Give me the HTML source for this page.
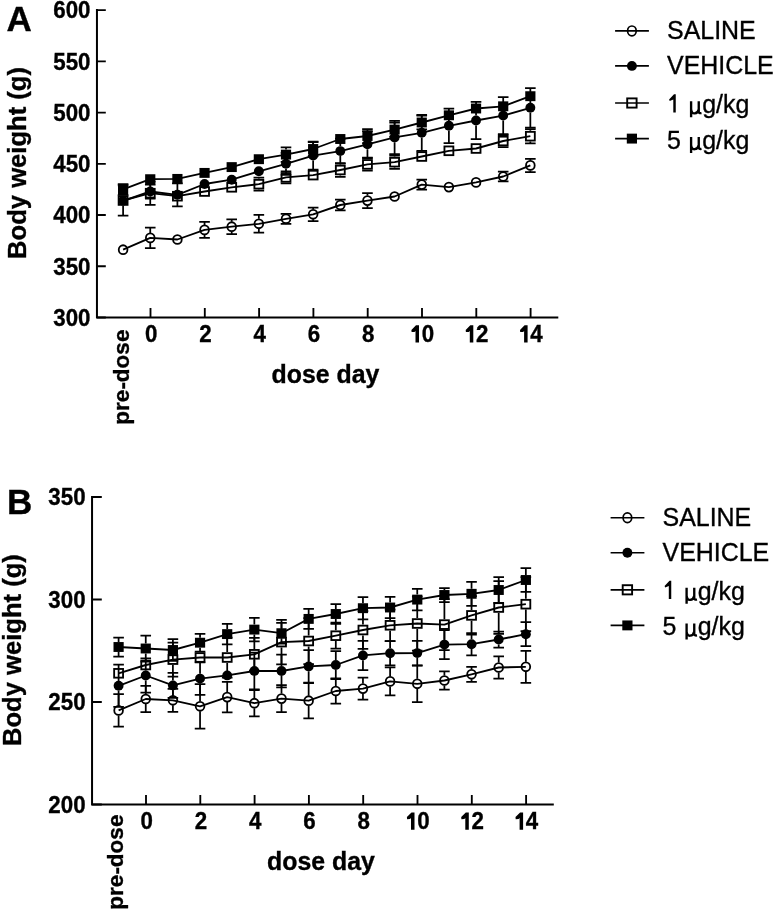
<!DOCTYPE html>
<html><head><meta charset="utf-8"><style>
html,body{margin:0;padding:0;background:#fff;}
body{width:774px;height:910px;overflow:hidden;}
svg{display:block;will-change:transform;}
text{font-family:"Liberation Sans",sans-serif;fill:#000;stroke:#000;stroke-width:0.35px;}
.tl{font-size:23px;font-weight:bold;}
.pd{font-size:22.5px;font-weight:bold;}
.al{font-size:25.6px;font-weight:bold;}
.pl{font-size:35px;font-weight:bold;}
.lg{font-size:26px;}
.hid{fill:none;stroke:none;}
</style></head><body>
<svg width="774" height="910" viewBox="0 0 774 910">
<rect width="774" height="910" fill="#fff"/>
<path d="M96.95 9.1V317.5H558.3" fill="none" stroke="#000" stroke-width="2"/>
<path d="M96.95 10.1H105.8M96.95 61.33H105.8M96.95 112.57H105.8M96.95 163.8H105.8M96.95 215.03H105.8M96.95 266.27H105.8M96.95 317.5H105.8M150.5 317.5V308M204.8 317.5V308M259.1 317.5V308M313.4 317.5V308M367.7 317.5V308M422 317.5V308M476.3 317.5V308M530.6 317.5V308" fill="none" stroke="#000" stroke-width="1.85"/>
<text class="tl" text-anchor="end" transform="translate(90.45 18.35) scale(0.97 1.0001)">600</text>
<text class="tl" text-anchor="end" transform="translate(90.45 69.58) scale(0.97 1.0001)">550</text>
<text class="tl" text-anchor="end" transform="translate(90.45 120.82) scale(0.97 1.0001)">500</text>
<text class="tl" text-anchor="end" transform="translate(90.45 172.05) scale(0.97 1.0001)">450</text>
<text class="tl" text-anchor="end" transform="translate(90.45 223.28) scale(0.97 1.0001)">400</text>
<text class="tl" text-anchor="end" transform="translate(90.45 274.52) scale(0.97 1.0001)">350</text>
<text class="tl" text-anchor="end" transform="translate(90.45 325.75) scale(0.97 1.0001)">300</text>
<text class="tl" text-anchor="middle" transform="translate(151.1 341.8) scale(0.97 1.0001)">0</text>
<text class="tl" text-anchor="middle" transform="translate(205.4 341.8) scale(0.97 1.0001)">2</text>
<text class="tl" text-anchor="middle" transform="translate(259.7 341.8) scale(0.97 1.0001)">4</text>
<text class="tl" text-anchor="middle" transform="translate(314 341.8) scale(0.97 1.0001)">6</text>
<text class="tl" text-anchor="middle" transform="translate(368.3 341.8) scale(0.97 1.0001)">8</text>
<path d="M419 325.3V342.6H415.5V330.9L414.5 332L411.6 332.1L411.4 329.9L416 325.3Z"/>
<text class="tl" text-anchor="middle" transform="translate(421.7 341.8) scale(0.97 1.0001)"><tspan class="hid">1</tspan>0</text>
<path d="M473.3 325.3V342.6H469.8V330.9L468.8 332L465.9 332.1L465.7 329.9L470.3 325.3Z"/>
<text class="tl" text-anchor="middle" transform="translate(476 341.8) scale(0.97 1.0001)"><tspan class="hid">1</tspan>2</text>
<path d="M527.6 325.3V342.6H524.1V330.9L523.1 332L520.2 332.1L520 329.9L524.6 325.3Z"/>
<text class="tl" text-anchor="middle" transform="translate(530.3 341.8) scale(0.97 1.0001)"><tspan class="hid">1</tspan>4</text>
<text class="pd" transform="translate(129.0 329.6) rotate(-90)" text-anchor="end">pre-dose</text>
<text class="al" transform="translate(271.5 383.3) scale(0.972 1.0001)">dose day</text>
<text class="al" transform="translate(25.8 163) rotate(-90)" text-anchor="middle">Body weight (g)</text>
<text class="pl" x="6.4" y="30.9">A</text>
<path d="M150.25 227.6V232.9M150.25 242.9V248.2M144.95 227.6H155.55M144.95 248.2H155.55M204.55 221.9V224.9M204.55 234.9V237.9M199.25 221.9H209.85M199.25 237.9H209.85M231.7 219.4V221.7M231.7 231.7V234M226.4 219.4H237M226.4 234H237M258.85 214.9V218.8M258.85 228.8V232.7M253.55 214.9H264.15M253.55 232.7H264.15M280.7 213.8H291.3M280.7 223.8H291.3M313.15 207.5V209.3M313.15 219.3V221.1M307.85 207.5H318.45M307.85 221.1H318.45M340.3 199.7V200M340.3 210V210.3M335 199.7H345.6M335 210.3H345.6M367.45 193.1V195.6M367.45 205.6V208.1M362.15 193.1H372.75M362.15 208.1H372.75M416.45 179.6H427.05M416.45 189.6H427.05M497.9 171.7H508.5M497.9 181.3H508.5M530.35 158.8V160.4M530.35 170.4V172M525.05 158.8H535.65M525.05 172H535.65" fill="none" stroke="#000" stroke-width="1.75"/>
<polyline points="123.1,249.7 150.25,237.9 177.4,239.5 204.55,229.9 231.7,226.7 258.85,223.8 286,218.8 313.15,214.3 340.3,205 367.45,200.6 394.6,196.5 421.75,184.6 448.9,187.1 476.05,182.4 503.2,176.5 530.35,165.4" fill="none" stroke="#000" stroke-width="1.85" stroke-linejoin="round"/>
<ellipse cx="123.1" cy="249.7" rx="4.35" ry="4.45" fill="none" stroke="#000" stroke-width="1.8"/>
<ellipse cx="150.25" cy="237.9" rx="4.35" ry="4.45" fill="none" stroke="#000" stroke-width="1.8"/>
<ellipse cx="177.4" cy="239.5" rx="4.35" ry="4.45" fill="none" stroke="#000" stroke-width="1.8"/>
<ellipse cx="204.55" cy="229.9" rx="4.35" ry="4.45" fill="none" stroke="#000" stroke-width="1.8"/>
<ellipse cx="231.7" cy="226.7" rx="4.35" ry="4.45" fill="none" stroke="#000" stroke-width="1.8"/>
<ellipse cx="258.85" cy="223.8" rx="4.35" ry="4.45" fill="none" stroke="#000" stroke-width="1.8"/>
<ellipse cx="286" cy="218.8" rx="4.35" ry="4.45" fill="none" stroke="#000" stroke-width="1.8"/>
<ellipse cx="313.15" cy="214.3" rx="4.35" ry="4.45" fill="none" stroke="#000" stroke-width="1.8"/>
<ellipse cx="340.3" cy="205" rx="4.35" ry="4.45" fill="none" stroke="#000" stroke-width="1.8"/>
<ellipse cx="367.45" cy="200.6" rx="4.35" ry="4.45" fill="none" stroke="#000" stroke-width="1.8"/>
<ellipse cx="394.6" cy="196.5" rx="4.35" ry="4.45" fill="none" stroke="#000" stroke-width="1.8"/>
<ellipse cx="421.75" cy="184.6" rx="4.35" ry="4.45" fill="none" stroke="#000" stroke-width="1.8"/>
<ellipse cx="448.9" cy="187.1" rx="4.35" ry="4.45" fill="none" stroke="#000" stroke-width="1.8"/>
<ellipse cx="476.05" cy="182.4" rx="4.35" ry="4.45" fill="none" stroke="#000" stroke-width="1.8"/>
<ellipse cx="503.2" cy="176.5" rx="4.35" ry="4.45" fill="none" stroke="#000" stroke-width="1.8"/>
<ellipse cx="530.35" cy="165.4" rx="4.35" ry="4.45" fill="none" stroke="#000" stroke-width="1.8"/>
<path d="M150.25 184.5V186.6M150.25 196.4V198.5M144.95 184.5H155.55M144.95 198.5H155.55M177.4 183.3V189.9M177.4 199.7V206.3M172.1 183.3H182.7M172.1 206.3H182.7M286 152.8V158.9M286 168.7V174.8M280.7 152.8H291.3M280.7 174.8H291.3M313.15 141.6V150.7M313.15 160.5V169.6M307.85 141.6H318.45M307.85 169.6H318.45M340.3 138.6V146.2M340.3 156V163.6M335 138.6H345.6M335 163.6H345.6M367.45 131V139.4M367.45 149.2V157.6M362.15 131H372.75M362.15 157.6H372.75M394.6 120.8V132.5M394.6 142.3V154M389.3 120.8H399.9M389.3 154H399.9M421.75 114.8V127.9M421.75 137.7V150.8M416.45 114.8H427.05M416.45 150.8H427.05M448.9 108.6V120.9M448.9 130.7V143M443.6 108.6H454.2M443.6 143H454.2M476.05 101.9V115.6M476.05 125.4V139.1M470.75 101.9H481.35M470.75 139.1H481.35M503.2 97V110.7M503.2 120.5V134.2M497.9 97H508.5M497.9 134.2H508.5M530.35 88V102.9M530.35 112.7V127.6M525.05 88H535.65M525.05 127.6H535.65" fill="none" stroke="#000" stroke-width="1.75"/>
<polyline points="123.1,200.8 150.25,191.5 177.4,194.8 204.55,184 231.7,179.7 258.85,171.3 286,163.8 313.15,155.6 340.3,151.1 367.45,144.3 394.6,137.4 421.75,132.8 448.9,125.8 476.05,120.5 503.2,115.6 530.35,107.8" fill="none" stroke="#000" stroke-width="1.85" stroke-linejoin="round"/>
<circle cx="123.1" cy="200.8" r="4.95" fill="#000"/>
<circle cx="150.25" cy="191.5" r="4.95" fill="#000"/>
<circle cx="177.4" cy="194.8" r="4.95" fill="#000"/>
<circle cx="204.55" cy="184" r="4.95" fill="#000"/>
<circle cx="231.7" cy="179.7" r="4.95" fill="#000"/>
<circle cx="258.85" cy="171.3" r="4.95" fill="#000"/>
<circle cx="286" cy="163.8" r="4.95" fill="#000"/>
<circle cx="313.15" cy="155.6" r="4.95" fill="#000"/>
<circle cx="340.3" cy="151.1" r="4.95" fill="#000"/>
<circle cx="367.45" cy="144.3" r="4.95" fill="#000"/>
<circle cx="394.6" cy="137.4" r="4.95" fill="#000"/>
<circle cx="421.75" cy="132.8" r="4.95" fill="#000"/>
<circle cx="448.9" cy="125.8" r="4.95" fill="#000"/>
<circle cx="476.05" cy="120.5" r="4.95" fill="#000"/>
<circle cx="503.2" cy="115.6" r="4.95" fill="#000"/>
<circle cx="530.35" cy="107.8" r="4.95" fill="#000"/>
<path d="M123.1 185.3V195.1M123.1 205.9V215.7M117.8 185.3H128.4M117.8 215.7H128.4M150.25 181.6V187.8M150.25 198.6V204.8M144.95 181.6H155.55M144.95 204.8H155.55M258.85 177.7V178.8M258.85 189.6V190.7M253.55 177.7H264.15M253.55 190.7H264.15M286 171.4V172M286 182.8V183.4M280.7 171.4H291.3M280.7 183.4H291.3M340.3 163.2V164.6M340.3 175.4V176.8M335 163.2H345.6M335 176.8H345.6M367.45 158.2V159M367.45 169.8V170.6M362.15 158.2H372.75M362.15 170.6H372.75M394.6 155.6V156.8M394.6 167.6V168.8M389.3 155.6H399.9M389.3 168.8H399.9M503.2 135V135.6M503.2 146.4V147M497.9 135H508.5M497.9 147H508.5M530.35 129V130.8M530.35 141.6V143.4M525.05 129H535.65M525.05 143.4H535.65" fill="none" stroke="#000" stroke-width="1.75"/>
<polyline points="123.1,200.5 150.25,193.2 177.4,196.2 204.55,191.5 231.7,187.3 258.85,184.2 286,177.4 313.15,175.1 340.3,170 367.45,164.4 394.6,162.2 421.75,156.5 448.9,150.8 476.05,148.5 503.2,141 530.35,136.2" fill="none" stroke="#000" stroke-width="1.85" stroke-linejoin="round"/>
<rect x="118.65" y="196.15" width="8.9" height="8.7" fill="none" stroke="#000" stroke-width="1.85"/>
<rect x="145.8" y="188.85" width="8.9" height="8.7" fill="none" stroke="#000" stroke-width="1.85"/>
<rect x="172.95" y="191.85" width="8.9" height="8.7" fill="none" stroke="#000" stroke-width="1.85"/>
<rect x="200.1" y="187.15" width="8.9" height="8.7" fill="none" stroke="#000" stroke-width="1.85"/>
<rect x="227.25" y="182.95" width="8.9" height="8.7" fill="none" stroke="#000" stroke-width="1.85"/>
<rect x="254.4" y="179.85" width="8.9" height="8.7" fill="none" stroke="#000" stroke-width="1.85"/>
<rect x="281.55" y="173.05" width="8.9" height="8.7" fill="none" stroke="#000" stroke-width="1.85"/>
<rect x="308.7" y="170.75" width="8.9" height="8.7" fill="none" stroke="#000" stroke-width="1.85"/>
<rect x="335.85" y="165.65" width="8.9" height="8.7" fill="none" stroke="#000" stroke-width="1.85"/>
<rect x="363" y="160.05" width="8.9" height="8.7" fill="none" stroke="#000" stroke-width="1.85"/>
<rect x="390.15" y="157.85" width="8.9" height="8.7" fill="none" stroke="#000" stroke-width="1.85"/>
<rect x="417.3" y="152.15" width="8.9" height="8.7" fill="none" stroke="#000" stroke-width="1.85"/>
<rect x="444.45" y="146.45" width="8.9" height="8.7" fill="none" stroke="#000" stroke-width="1.85"/>
<rect x="471.6" y="144.15" width="8.9" height="8.7" fill="none" stroke="#000" stroke-width="1.85"/>
<rect x="498.75" y="136.65" width="8.9" height="8.7" fill="none" stroke="#000" stroke-width="1.85"/>
<rect x="525.9" y="131.85" width="8.9" height="8.7" fill="none" stroke="#000" stroke-width="1.85"/>
<path d="M123.1 184V184.4M123.1 194.4V194.8M117.8 184H128.4M117.8 194.8H128.4M286 147.4V149.6M286 159.6V161.8M280.7 147.4H291.3M280.7 161.8H291.3M313.15 142V144M313.15 154V156M307.85 142H318.45M307.85 156H318.45M367.45 129V131M367.45 141V143M362.15 129H372.75M362.15 143H372.75M394.6 122.6V124.6M394.6 134.6V136.6M389.3 122.6H399.9M389.3 136.6H399.9M421.75 115.7V117.5M421.75 127.5V129.3M416.45 115.7H427.05M416.45 129.3H427.05" fill="none" stroke="#000" stroke-width="1.75"/>
<polyline points="123.1,189.4 150.25,179.2 177.4,178.9 204.55,172.9 231.7,167.1 258.85,159.2 286,154.6 313.15,149 340.3,139 367.45,136 394.6,129.6 421.75,122.5 448.9,115.3 476.05,108.5 503.2,106.3 530.35,96.2" fill="none" stroke="#000" stroke-width="1.85" stroke-linejoin="round"/>
<rect x="118" y="184.45" width="10.2" height="9.9" fill="#000"/>
<rect x="145.15" y="174.25" width="10.2" height="9.9" fill="#000"/>
<rect x="172.3" y="173.95" width="10.2" height="9.9" fill="#000"/>
<rect x="199.45" y="167.95" width="10.2" height="9.9" fill="#000"/>
<rect x="226.6" y="162.15" width="10.2" height="9.9" fill="#000"/>
<rect x="253.75" y="154.25" width="10.2" height="9.9" fill="#000"/>
<rect x="280.9" y="149.65" width="10.2" height="9.9" fill="#000"/>
<rect x="308.05" y="144.05" width="10.2" height="9.9" fill="#000"/>
<rect x="335.2" y="134.05" width="10.2" height="9.9" fill="#000"/>
<rect x="362.35" y="131.05" width="10.2" height="9.9" fill="#000"/>
<rect x="389.5" y="124.65" width="10.2" height="9.9" fill="#000"/>
<rect x="416.65" y="117.55" width="10.2" height="9.9" fill="#000"/>
<rect x="443.8" y="110.35" width="10.2" height="9.9" fill="#000"/>
<rect x="470.95" y="103.55" width="10.2" height="9.9" fill="#000"/>
<rect x="498.1" y="101.35" width="10.2" height="9.9" fill="#000"/>
<rect x="525.25" y="91.25" width="10.2" height="9.9" fill="#000"/>
<path transform="translate(0 0)" d="M691.1 101.2V117.3M698.75 101.2V111.6Q698.9 113.6 701.5 113.1M691.1 109.2Q691.5 113.7 694.7 113.4Q697.9 113.1 698.75 109.2" fill="none" stroke="#000" stroke-width="2.35"/>
<path transform="translate(0 35.8)" d="M691.1 101.2V117.3M698.75 101.2V111.6Q698.9 113.6 701.5 113.1M691.1 109.2Q691.5 113.7 694.7 113.4Q697.9 113.1 698.75 109.2" fill="none" stroke="#000" stroke-width="2.35"/>
<path d="M675.75 94.3V112.6H673.3V99.5L669.7 101.1L669.1 99.5L674 94.3Z"/>
<path d="M615.1 30.9H648.9" stroke="#000" stroke-width="1.65"/>
<ellipse cx="631.9" cy="30.9" rx="4.3" ry="4.9" fill="none" stroke="#000" stroke-width="1.7"/>
<text class="lg" transform="translate(667 39.2) scale(0.96 1.0001)">SALINE</text>
<path d="M615.1 65.9H648.9" stroke="#000" stroke-width="1.65"/>
<circle cx="631.9" cy="65.9" r="4.95" fill="#000"/>
<text class="lg" transform="translate(667 74.3) scale(0.96 1.0001)">VEHICLE</text>
<path d="M615.1 103H648.9" stroke="#000" stroke-width="1.65"/>
<rect x="627.2" y="98.4" width="9.4" height="9.2" fill="none" stroke="#000" stroke-width="1.9"/>
<text class="lg" transform="translate(667 113) scale(0.96 1.0001)"><tspan class="hid">1 µ</tspan>g/kg</text>
<path d="M615.1 138.6H648.9" stroke="#000" stroke-width="1.65"/>
<rect x="626.8" y="133.65" width="10.2" height="9.9" fill="#000"/>
<text class="lg" transform="translate(667 148.8) scale(0.96 1.0001)">5 <tspan class="hid">µ</tspan>g/kg</text>
<path d="M92.05 496V804.5H553.8" fill="none" stroke="#000" stroke-width="2"/>
<path d="M92.05 497H101.8M92.05 599.5H101.8M92.05 702H101.8M92.05 804.5H101.8M146 804.5V795M200.3 804.5V795M254.6 804.5V795M308.9 804.5V795M363.2 804.5V795M417.5 804.5V795M471.8 804.5V795M526.1 804.5V795" fill="none" stroke="#000" stroke-width="1.85"/>
<text class="tl" text-anchor="end" transform="translate(85.55 505.25) scale(0.97 1.0001)">350</text>
<text class="tl" text-anchor="end" transform="translate(85.55 607.75) scale(0.97 1.0001)">300</text>
<text class="tl" text-anchor="end" transform="translate(85.55 710.25) scale(0.97 1.0001)">250</text>
<text class="tl" text-anchor="end" transform="translate(85.55 812.75) scale(0.97 1.0001)">200</text>
<text class="tl" text-anchor="middle" transform="translate(146.6 828.8) scale(0.97 1.0001)">0</text>
<text class="tl" text-anchor="middle" transform="translate(200.9 828.8) scale(0.97 1.0001)">2</text>
<text class="tl" text-anchor="middle" transform="translate(255.2 828.8) scale(0.97 1.0001)">4</text>
<text class="tl" text-anchor="middle" transform="translate(309.5 828.8) scale(0.97 1.0001)">6</text>
<text class="tl" text-anchor="middle" transform="translate(363.8 828.8) scale(0.97 1.0001)">8</text>
<path d="M414.5 812.4V829.7H411V818L410 819.1L407.1 819.2L406.9 817L411.5 812.4Z"/>
<text class="tl" text-anchor="middle" transform="translate(417.2 828.8) scale(0.97 1.0001)"><tspan class="hid">1</tspan>0</text>
<path d="M468.8 812.4V829.7H465.3V818L464.3 819.1L461.4 819.2L461.2 817L465.8 812.4Z"/>
<text class="tl" text-anchor="middle" transform="translate(471.5 828.8) scale(0.97 1.0001)"><tspan class="hid">1</tspan>2</text>
<path d="M523.1 812.4V829.7H519.6V818L518.6 819.1L515.7 819.2L515.5 817L520.1 812.4Z"/>
<text class="tl" text-anchor="middle" transform="translate(525.8 828.8) scale(0.97 1.0001)"><tspan class="hid">1</tspan>4</text>
<text class="pd" transform="translate(122.7 814.6) rotate(-90)" text-anchor="end">pre-dose</text>
<text class="al" transform="translate(267 870.4) scale(0.972 1.0001)">dose day</text>
<text class="al" transform="translate(21.3 650.1) rotate(-90)" text-anchor="middle">Body weight (g)</text>
<text class="pl" x="7.0" y="513.6">B</text>
<path d="M118.6 694.2V705.4M118.6 715.4V726.6M113.3 694.2H123.9M113.3 726.6H123.9M145.75 685.8V694M145.75 704V712.2M140.45 685.8H151.05M140.45 712.2H151.05M172.9 688.8V695.3M172.9 705.3V711.8M167.6 688.8H178.2M167.6 711.8H178.2M200.05 684.1V701.3M200.05 711.3V728.5M194.75 684.1H205.35M194.75 728.5H205.35M227.2 681.8V692.1M227.2 702.1V712.4M221.9 681.8H232.5M221.9 712.4H232.5M254.35 690V698.2M254.35 708.2V716.4M249.05 690H259.65M249.05 716.4H259.65M281.5 685.1V693.6M281.5 703.6V712.1M276.2 685.1H286.8M276.2 712.1H286.8M308.65 683.1V695.7M308.65 705.7V718.3M303.35 683.1H313.95M303.35 718.3H313.95M335.8 678.4V686M335.8 696V703.6M330.5 678.4H341.1M330.5 703.6H341.1M362.95 677.5V683.6M362.95 693.6V699.7M357.65 677.5H368.25M357.65 699.7H368.25M390.1 667.4V676.4M390.1 686.4V695.4M384.8 667.4H395.4M384.8 695.4H395.4M417.25 665.6V678.8M417.25 688.8V702M411.95 665.6H422.55M411.95 702H422.55M444.4 671.3V675.5M444.4 685.5V689.7M439.1 671.3H449.7M439.1 689.7H449.7M471.55 666.8V669.3M471.55 679.3V681.8M466.25 666.8H476.85M466.25 681.8H476.85M498.7 656.3V662.5M498.7 672.5V678.7M493.4 656.3H504M493.4 678.7H504M525.85 650.8V661.8M525.85 671.8V682.8M520.55 650.8H531.15M520.55 682.8H531.15" fill="none" stroke="#000" stroke-width="1.75"/>
<polyline points="118.6,710.4 145.75,699 172.9,700.3 200.05,706.3 227.2,697.1 254.35,703.2 281.5,698.6 308.65,700.7 335.8,691 362.95,688.6 390.1,681.4 417.25,683.8 444.4,680.5 471.55,674.3 498.7,667.5 525.85,666.8" fill="none" stroke="#000" stroke-width="1.85" stroke-linejoin="round"/>
<ellipse cx="118.6" cy="710.4" rx="4.35" ry="4.45" fill="none" stroke="#000" stroke-width="1.8"/>
<ellipse cx="145.75" cy="699" rx="4.35" ry="4.45" fill="none" stroke="#000" stroke-width="1.8"/>
<ellipse cx="172.9" cy="700.3" rx="4.35" ry="4.45" fill="none" stroke="#000" stroke-width="1.8"/>
<ellipse cx="200.05" cy="706.3" rx="4.35" ry="4.45" fill="none" stroke="#000" stroke-width="1.8"/>
<ellipse cx="227.2" cy="697.1" rx="4.35" ry="4.45" fill="none" stroke="#000" stroke-width="1.8"/>
<ellipse cx="254.35" cy="703.2" rx="4.35" ry="4.45" fill="none" stroke="#000" stroke-width="1.8"/>
<ellipse cx="281.5" cy="698.6" rx="4.35" ry="4.45" fill="none" stroke="#000" stroke-width="1.8"/>
<ellipse cx="308.65" cy="700.7" rx="4.35" ry="4.45" fill="none" stroke="#000" stroke-width="1.8"/>
<ellipse cx="335.8" cy="691" rx="4.35" ry="4.45" fill="none" stroke="#000" stroke-width="1.8"/>
<ellipse cx="362.95" cy="688.6" rx="4.35" ry="4.45" fill="none" stroke="#000" stroke-width="1.8"/>
<ellipse cx="390.1" cy="681.4" rx="4.35" ry="4.45" fill="none" stroke="#000" stroke-width="1.8"/>
<ellipse cx="417.25" cy="683.8" rx="4.35" ry="4.45" fill="none" stroke="#000" stroke-width="1.8"/>
<ellipse cx="444.4" cy="680.5" rx="4.35" ry="4.45" fill="none" stroke="#000" stroke-width="1.8"/>
<ellipse cx="471.55" cy="674.3" rx="4.35" ry="4.45" fill="none" stroke="#000" stroke-width="1.8"/>
<ellipse cx="498.7" cy="667.5" rx="4.35" ry="4.45" fill="none" stroke="#000" stroke-width="1.8"/>
<ellipse cx="525.85" cy="666.8" rx="4.35" ry="4.45" fill="none" stroke="#000" stroke-width="1.8"/>
<path d="M118.6 664.7V680.9M118.6 690.7V706.9M113.3 664.7H123.9M113.3 706.9H123.9M145.75 658.3V670.6M145.75 680.4V692.7M140.45 658.3H151.05M140.45 692.7H151.05M172.9 672.9V680.5M172.9 690.3V697.9M167.6 672.9H178.2M167.6 697.9H178.2M200.05 662.4V673.7M200.05 683.5V694.8M194.75 662.4H205.35M194.75 694.8H205.35M254.35 652.7V666.1M254.35 675.9V689.3M249.05 652.7H259.65M249.05 689.3H259.65M281.5 654.6V666.1M281.5 675.9V687.4M276.2 654.6H286.8M276.2 687.4H286.8M308.65 650.2V661.5M308.65 671.3V682.6M303.35 650.2H313.95M303.35 682.6H313.95M335.8 651V660.1M335.8 669.9V679M330.5 651H341.1M330.5 679H341.1M362.95 640.8V650.5M362.95 660.3V670M357.65 640.8H368.25M357.65 670H368.25M390.1 641.1V648.3M390.1 658.1V665.3M384.8 641.1H395.4M384.8 665.3H395.4M417.25 640.8V648.2M417.25 658V665.4M411.95 640.8H422.55M411.95 665.4H422.55M444.4 630V639.7M444.4 649.5V659.2M439.1 630H449.7M439.1 659.2H449.7M471.55 633V639.3M471.55 649.1V655.4M466.25 633H476.85M466.25 655.4H476.85M498.7 631.5V634.6M498.7 644.4V647.5M493.4 631.5H504M493.4 647.5H504M525.85 622.2V629.3M525.85 639.1V646.2M520.55 622.2H531.15M520.55 646.2H531.15" fill="none" stroke="#000" stroke-width="1.75"/>
<polyline points="118.6,685.8 145.75,675.5 172.9,685.4 200.05,678.6 227.2,675.4 254.35,671 281.5,671 308.65,666.4 335.8,665 362.95,655.4 390.1,653.2 417.25,653.1 444.4,644.6 471.55,644.2 498.7,639.5 525.85,634.2" fill="none" stroke="#000" stroke-width="1.85" stroke-linejoin="round"/>
<circle cx="118.6" cy="685.8" r="4.95" fill="#000"/>
<circle cx="145.75" cy="675.5" r="4.95" fill="#000"/>
<circle cx="172.9" cy="685.4" r="4.95" fill="#000"/>
<circle cx="200.05" cy="678.6" r="4.95" fill="#000"/>
<circle cx="227.2" cy="675.4" r="4.95" fill="#000"/>
<circle cx="254.35" cy="671" r="4.95" fill="#000"/>
<circle cx="281.5" cy="671" r="4.95" fill="#000"/>
<circle cx="308.65" cy="666.4" r="4.95" fill="#000"/>
<circle cx="335.8" cy="665" r="4.95" fill="#000"/>
<circle cx="362.95" cy="655.4" r="4.95" fill="#000"/>
<circle cx="390.1" cy="653.2" r="4.95" fill="#000"/>
<circle cx="417.25" cy="653.1" r="4.95" fill="#000"/>
<circle cx="444.4" cy="644.6" r="4.95" fill="#000"/>
<circle cx="471.55" cy="644.2" r="4.95" fill="#000"/>
<circle cx="498.7" cy="639.5" r="4.95" fill="#000"/>
<circle cx="525.85" cy="634.2" r="4.95" fill="#000"/>
<path d="M172.9 642.6V654.2M172.9 665V676.6M167.6 642.6H178.2M167.6 676.6H178.2M227.2 637.5V652.1M227.2 662.9V677.5M221.9 637.5H232.5M221.9 677.5H232.5M254.35 637.9V648.9M254.35 659.7V670.7M249.05 637.9H259.65M249.05 670.7H259.65M281.5 619.9V636.7M281.5 647.5V664.3M276.2 619.9H286.8M276.2 664.3H286.8M308.65 618V635.6M308.65 646.4V664M303.35 618H313.95M303.35 664H313.95M335.8 622.7V630.3M335.8 641.1V648.7M330.5 622.7H341.1M330.5 648.7H341.1M362.95 611.1V624.6M362.95 635.4V648.9M357.65 611.1H368.25M357.65 648.9H368.25M390.1 609.5V619.9M390.1 630.7V641.1M384.8 609.5H395.4M384.8 641.1H395.4M417.25 596.5V618.1M417.25 628.9V650.5M411.95 596.5H422.55M411.95 650.5H422.55M444.4 599.2V619.2M444.4 630V650M439.1 599.2H449.7M439.1 650H449.7M471.55 596.2V610M471.55 620.8V634.6M466.25 596.2H476.85M466.25 634.6H476.85M498.7 581.1V602.1M498.7 612.9V633.9M493.4 581.1H504M493.4 633.9H504M525.85 577.2V598.8M525.85 609.6V631.2M520.55 577.2H531.15M520.55 631.2H531.15" fill="none" stroke="#000" stroke-width="1.75"/>
<polyline points="118.6,673.3 145.75,665 172.9,659.6 200.05,657.5 227.2,657.5 254.35,654.3 281.5,642.1 308.65,641 335.8,635.7 362.95,630 390.1,625.3 417.25,623.5 444.4,624.6 471.55,615.4 498.7,607.5 525.85,604.2" fill="none" stroke="#000" stroke-width="1.85" stroke-linejoin="round"/>
<rect x="114.15" y="668.95" width="8.9" height="8.7" fill="none" stroke="#000" stroke-width="1.85"/>
<rect x="141.3" y="660.65" width="8.9" height="8.7" fill="none" stroke="#000" stroke-width="1.85"/>
<rect x="168.45" y="655.25" width="8.9" height="8.7" fill="none" stroke="#000" stroke-width="1.85"/>
<rect x="195.6" y="653.15" width="8.9" height="8.7" fill="none" stroke="#000" stroke-width="1.85"/>
<rect x="222.75" y="653.15" width="8.9" height="8.7" fill="none" stroke="#000" stroke-width="1.85"/>
<rect x="249.9" y="649.95" width="8.9" height="8.7" fill="none" stroke="#000" stroke-width="1.85"/>
<rect x="277.05" y="637.75" width="8.9" height="8.7" fill="none" stroke="#000" stroke-width="1.85"/>
<rect x="304.2" y="636.65" width="8.9" height="8.7" fill="none" stroke="#000" stroke-width="1.85"/>
<rect x="331.35" y="631.35" width="8.9" height="8.7" fill="none" stroke="#000" stroke-width="1.85"/>
<rect x="358.5" y="625.65" width="8.9" height="8.7" fill="none" stroke="#000" stroke-width="1.85"/>
<rect x="385.65" y="620.95" width="8.9" height="8.7" fill="none" stroke="#000" stroke-width="1.85"/>
<rect x="412.8" y="619.15" width="8.9" height="8.7" fill="none" stroke="#000" stroke-width="1.85"/>
<rect x="439.95" y="620.25" width="8.9" height="8.7" fill="none" stroke="#000" stroke-width="1.85"/>
<rect x="467.1" y="611.05" width="8.9" height="8.7" fill="none" stroke="#000" stroke-width="1.85"/>
<rect x="494.25" y="603.15" width="8.9" height="8.7" fill="none" stroke="#000" stroke-width="1.85"/>
<rect x="521.4" y="599.85" width="8.9" height="8.7" fill="none" stroke="#000" stroke-width="1.85"/>
<path d="M118.6 637.5V642M118.6 652V656.5M113.3 637.5H123.9M113.3 656.5H123.9M145.75 635.5V643.5M145.75 653.5V661.5M140.45 635.5H151.05M140.45 661.5H151.05M172.9 639.1V645M172.9 655V660.9M167.6 639.1H178.2M167.6 660.9H178.2M200.05 633.9V637.7M200.05 647.7V651.5M194.75 633.9H205.35M194.75 651.5H205.35M227.2 623.9V629.1M227.2 639.1V644.3M221.9 623.9H232.5M221.9 644.3H232.5M254.35 617.9V624.6M254.35 634.6V641.3M249.05 617.9H259.65M249.05 641.3H259.65M281.5 622.9V628.2M281.5 638.2V643.5M276.2 622.9H286.8M276.2 643.5H286.8M308.65 608.9V613.9M308.65 623.9V628.9M303.35 608.9H313.95M303.35 628.9H313.95M335.8 604.2V609M335.8 619V623.8M330.5 604.2H341.1M330.5 623.8H341.1M362.95 597V603.2M362.95 613.2V619.4M357.65 597H368.25M357.65 619.4H368.25M390.1 596.9V602.5M390.1 612.5V618.1M384.8 596.9H395.4M384.8 618.1H395.4M417.25 588.9V594.6M417.25 604.6V610.3M411.95 588.9H422.55M411.95 610.3H422.55M444.4 588V590M444.4 600V602M439.1 588H449.7M439.1 602H449.7M471.55 581.8V588.8M471.55 598.8V605.8M466.25 581.8H476.85M466.25 605.8H476.85M498.7 577.1V585M498.7 595V602.9M493.4 577.1H504M493.4 602.9H504M525.85 568.1V575M525.85 585V591.9M520.55 568.1H531.15M520.55 591.9H531.15" fill="none" stroke="#000" stroke-width="1.75"/>
<polyline points="118.6,647 145.75,648.5 172.9,650 200.05,642.7 227.2,634.1 254.35,629.6 281.5,633.2 308.65,618.9 335.8,614 362.95,608.2 390.1,607.5 417.25,599.6 444.4,595 471.55,593.8 498.7,590 525.85,580" fill="none" stroke="#000" stroke-width="1.85" stroke-linejoin="round"/>
<rect x="113.5" y="642.05" width="10.2" height="9.9" fill="#000"/>
<rect x="140.65" y="643.55" width="10.2" height="9.9" fill="#000"/>
<rect x="167.8" y="645.05" width="10.2" height="9.9" fill="#000"/>
<rect x="194.95" y="637.75" width="10.2" height="9.9" fill="#000"/>
<rect x="222.1" y="629.15" width="10.2" height="9.9" fill="#000"/>
<rect x="249.25" y="624.65" width="10.2" height="9.9" fill="#000"/>
<rect x="276.4" y="628.25" width="10.2" height="9.9" fill="#000"/>
<rect x="303.55" y="613.95" width="10.2" height="9.9" fill="#000"/>
<rect x="330.7" y="609.05" width="10.2" height="9.9" fill="#000"/>
<rect x="357.85" y="603.25" width="10.2" height="9.9" fill="#000"/>
<rect x="385" y="602.55" width="10.2" height="9.9" fill="#000"/>
<rect x="412.15" y="594.65" width="10.2" height="9.9" fill="#000"/>
<rect x="439.3" y="590.05" width="10.2" height="9.9" fill="#000"/>
<rect x="466.45" y="588.85" width="10.2" height="9.9" fill="#000"/>
<rect x="493.6" y="585.05" width="10.2" height="9.9" fill="#000"/>
<rect x="520.75" y="575.05" width="10.2" height="9.9" fill="#000"/>
<path transform="translate(-4.5 486.5)" d="M691.1 101.2V117.3M698.75 101.2V111.6Q698.9 113.6 701.5 113.1M691.1 109.2Q691.5 113.7 694.7 113.4Q697.9 113.1 698.75 109.2" fill="none" stroke="#000" stroke-width="2.35"/>
<path transform="translate(-4.5 522.3)" d="M691.1 101.2V117.3M698.75 101.2V111.6Q698.9 113.6 701.5 113.1M691.1 109.2Q691.5 113.7 694.7 113.4Q697.9 113.1 698.75 109.2" fill="none" stroke="#000" stroke-width="2.35"/>
<path d="M671.25 580.8V599.1H668.8V586L665.2 587.6L664.6 586L669.5 580.8Z"/>
<path d="M610.6 517.7H644.4" stroke="#000" stroke-width="1.65"/>
<ellipse cx="627.4" cy="517.7" rx="4.3" ry="4.9" fill="none" stroke="#000" stroke-width="1.7"/>
<text class="lg" transform="translate(662.5 525.7) scale(0.96 1.0001)">SALINE</text>
<path d="M610.6 552.7H644.4" stroke="#000" stroke-width="1.65"/>
<circle cx="627.4" cy="552.7" r="4.95" fill="#000"/>
<text class="lg" transform="translate(662.5 560.8) scale(0.96 1.0001)">VEHICLE</text>
<path d="M610.6 589.8H644.4" stroke="#000" stroke-width="1.65"/>
<rect x="622.7" y="585.2" width="9.4" height="9.2" fill="none" stroke="#000" stroke-width="1.9"/>
<text class="lg" transform="translate(662.5 599.5) scale(0.96 1.0001)"><tspan class="hid">1 µ</tspan>g/kg</text>
<path d="M610.6 625.4H644.4" stroke="#000" stroke-width="1.65"/>
<rect x="622.3" y="620.45" width="10.2" height="9.9" fill="#000"/>
<text class="lg" transform="translate(662.5 635.3) scale(0.96 1.0001)">5 <tspan class="hid">µ</tspan>g/kg</text>
</svg>
</body></html>
